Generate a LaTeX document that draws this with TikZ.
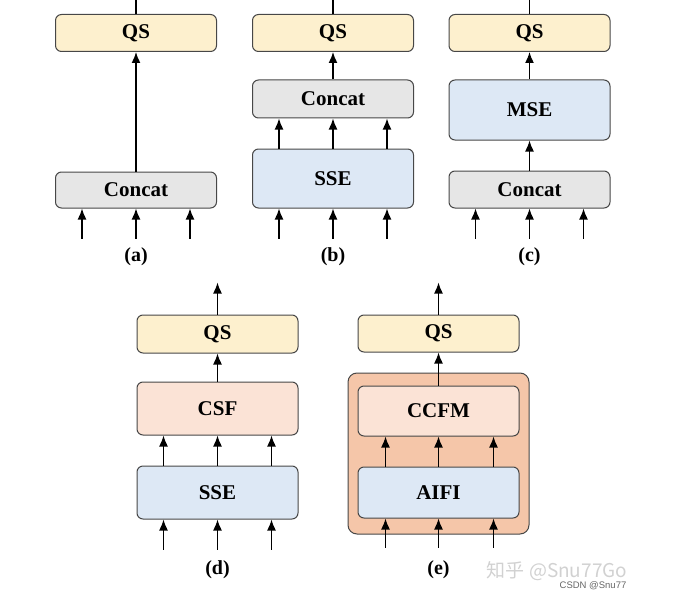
\documentclass[tikz,border=0pt]{standalone}
\usepackage{fontspec}
\setmainfont{Liberation Serif}
\newfontfamily\cjkfont{Noto Sans CJK SC}
\newfontfamily\markfont{Liberation Sans}
\usetikzlibrary{arrows.meta,positioning}

\definecolor{qsfill}{HTML}{FDF0CE}
\definecolor{catfill}{HTML}{E6E6E6}
\definecolor{ssefill}{HTML}{DDE8F5}
\definecolor{csffill}{HTML}{FBE3D6}
\definecolor{fusefill}{HTML}{F5C6A9}

\begin{document}
\begin{tikzpicture}[x=1pt,y=-1pt,
    blk/.style={draw=black!72, line width=1pt, rounded corners=6pt,
        minimum width=161pt, inner sep=0pt,
        font=\fontsize{21}{21}\selectfont\bfseries},
    flow/.style={line width=1.5pt, -{Latex[length=11pt,width=9pt]}},
    sub/.style={font=\fontsize{20}{20}\selectfont\bfseries}]
    \useasboundingbox (0,0) rectangle (698,591);

    % (a)
    \node[blk, fill=qsfill, minimum height=37pt] (qsa) at (136,33) {QS};
    \node[blk, fill=catfill, minimum height=36pt] (cata) at (136,190) {Concat};
    \draw[line width=1.5pt] (qsa.north) -- ++(0,-15);
    \draw[flow] (cata.north) -- (qsa.south);
    \foreach \dx in {-54,0,54}
        \draw[flow] ([xshift=\dx pt,yshift=-30pt]cata.south) -- ([xshift=\dx pt]cata.south);
    \node[sub] (laba) at (136,257) {(a)};

    % (b)
    \node[blk, fill=qsfill, minimum height=37pt] (qsb) at (333,33) {QS};
    \node[blk, fill=catfill, minimum height=38pt] (catb) at (333,99) {Concat};
    \node[blk, fill=ssefill, minimum height=59pt] (sseb) at (333,178.5) {SSE};
    \draw[line width=1.5pt] (qsb.north) -- ++(0,-15);
    \draw[flow] (catb.north) -- (qsb.south);
    \foreach \dx in {-54,0,54} {
        \draw[flow] ([xshift=\dx pt]sseb.north) -- ([xshift=\dx pt]catb.south);
        \draw[flow] ([xshift=\dx pt,yshift=-30pt]sseb.south) -- ([xshift=\dx pt]sseb.south);
    }
    \node[sub] (labb) at (333,257) {(b)};

    % (c)
    \node[blk, fill=qsfill, minimum height=37pt] (qsc) at (529.5,33) {QS};
    \node[blk, fill=ssefill, minimum height=60pt] (msec) at (529.5,110) {MSE};
    \node[blk, fill=catfill, minimum height=37pt] (catc) at (529.5,189.5) {Concat};
    \draw[line width=1.5pt] (qsc.north) -- ++(0,-15);
    \draw[flow] (msec.north) -- (qsc.south);
    \draw[flow] (catc.north) -- (msec.south);
    \foreach \dx in {-54,0,54}
        \draw[flow] ([xshift=\dx pt,yshift=-30pt]catc.south) -- ([xshift=\dx pt]catc.south);
    \node[sub] (labc) at (529.5,257) {(c)};

    % (d)
    \node[blk, fill=qsfill, minimum height=38pt] (qsd) at (217.5,334) {QS};
    \node[blk, fill=csffill, minimum height=53pt] (csfd) at (217.5,408.5) {CSF};
    \node[blk, fill=ssefill, minimum height=53pt] (ssed) at (217.5,492.5) {SSE};
    \draw[flow] (qsd.north) -- ++(0,-32);
    \draw[flow] (csfd.north) -- (qsd.south);
    \foreach \dx in {-54,0,54} {
        \draw[flow] ([xshift=\dx pt]ssed.north) -- ([xshift=\dx pt]csfd.south);
        \draw[flow] ([xshift=\dx pt,yshift=-30pt]ssed.south) -- ([xshift=\dx pt]ssed.south);
    }
    \node[sub] (labd) at (217.5,570) {(d)};

    % (e)
    \node[blk, fill=fusefill, minimum width=181pt, minimum height=161pt, rounded corners=9pt] (fusee) at (438.5,453.5) {};
    \node[blk, fill=qsfill, minimum height=37pt] (qse) at (438.5,333.5) {QS};
    \node[blk, fill=csffill, minimum height=50pt] (ccfme) at (438.5,411) {CCFM};
    \node[blk, fill=ssefill, minimum height=51pt] (aifie) at (438.5,492.5) {AIFI};
    \draw[flow] (qse.north) -- ++(0,-32);
    \draw[flow] (ccfme.north) -- (qse.south);
    \foreach \dx in {-53,0,55} {
        \draw[flow] ([xshift=\dx pt]aifie.north) -- ([xshift=\dx pt]ccfme.south);
        \draw[flow] ([xshift=\dx pt,yshift=-29pt]aifie.south) -- ([xshift=\dx pt]aifie.south);
    }
    \node[sub] (labe) at (438.5,570) {(e)};

    % watermarks
    \node[text=black!18, font=\cjkfont\fontsize{19}{19}\selectfont, inner sep=0pt] (zhihu) at (557,571) {知乎 @Snu77Go};
    \node[text=black!60, font=\markfont\fontsize{9.5}{9.5}\selectfont, inner sep=0pt] (csdn) at (593,585.5) {CSDN @Snu77};
\end{tikzpicture}
\end{document}
